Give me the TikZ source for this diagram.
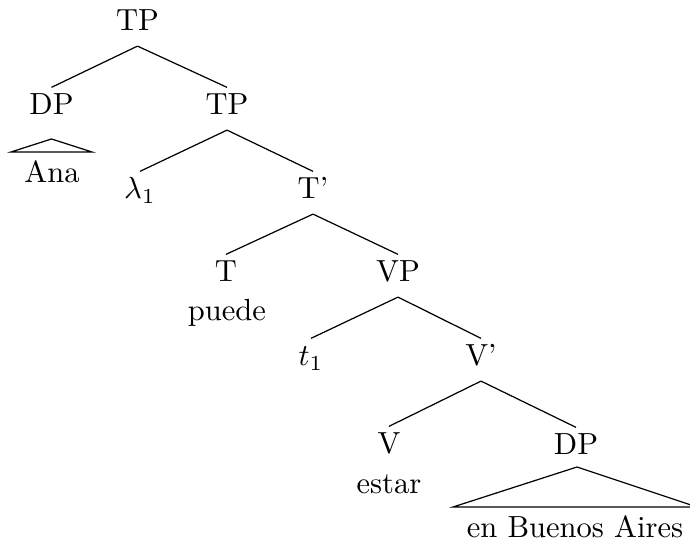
\documentclass[tikz,border=0pt]{standalone}
\usetikzlibrary{calc}
\tikzset{
  lab/.style={anchor=base, inner xsep=0pt, inner ysep=0pt, text height=8.85pt, text depth=4.75pt},
  leaf/.style={anchor=base, inner sep=0pt},
  branch/.style={draw=black, line width=0.4pt},
}
\begin{document}
\begin{tikzpicture}[x=0.3275pt, y=-0.3275pt]
\useasboundingbox (0,0) rectangle (690,544);
% nodes
\node[lab] (tp1) at (137.5,31) {TP};
\node[lab] (dp1) at (51.5,115) {DP};
\node[lab] (tp2) at (227,115) {TP};
\node[leaf] (ana) at (52,183) {Ana};
\node[lab] (lam) at (140,199) {$\lambda_1$};
\node[lab] (tbar) at (313,199) {T’};
\node[lab] (t) at (226,282) {T};
\node[leaf] (puede) at (227,321) {puede};
\node[lab] (vp) at (398,282) {VP};
\node[lab] (tr) at (311,366) {$t_1$};
\node[lab] (vbar) at (481,366) {V’};
\node[lab] (v) at (389,454) {V};
\node[leaf] (estar) at (389,494) {estar};
\node[lab] (dp2) at (576,455) {DP};
\node[leaf] (eba) at (575,538) {en Buenos Aires};
% branches
\draw[branch] (tp1.south) -- (dp1.north);
\draw[branch] (tp1.south) -- (tp2.north);
\draw[branch] (tp2.south) -- (lam.north);
\draw[branch] (tp2.south) -- (tbar.north);
\draw[branch] (tbar.south) -- (t.north);
\draw[branch] (tbar.south) -- (vp.north);
\draw[branch] (vp.south) -- (tr.north);
\draw[branch] (vp.south) -- (vbar.north);
\draw[branch] (vbar.south) -- (v.north);
\draw[branch] (vbar.south) -- (dp2.north);
% roofs
\draw[branch] ($(dp1.base)+(0,24)$) -- ($(ana.base)+(-41,-31)$) -- ($(ana.base)+(40,-31)$) -- cycle;
\draw[branch] ($(dp2.base)+(1,12)$) -- ($(eba.base)+(-122,-31)$) -- ($(eba.base)+(122,-31)$) -- cycle;
\end{tikzpicture}
\end{document}
